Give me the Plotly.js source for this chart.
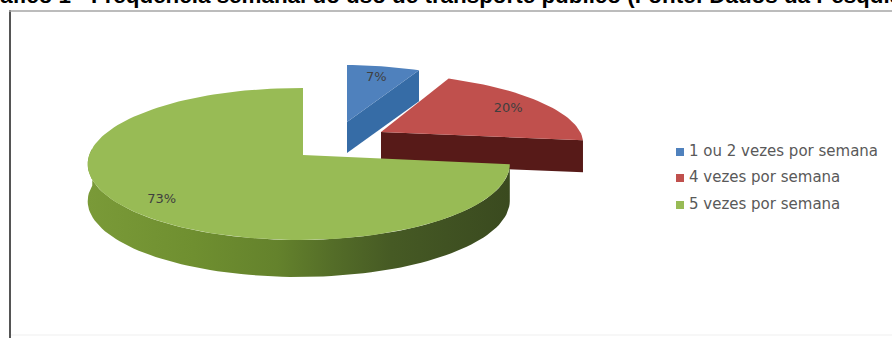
<!DOCTYPE html>
<html>
<head>
<meta charset="utf-8">
<script src="https://cdn.plot.ly/plotly-3.0.1.min.js"></script>
<style>html,body{margin:0;padding:0;background:#fff;overflow:hidden}#chart{width:892px;height:338px}</style>
</head>
<body>
<div id="chart"></div>
<script>
// Weekly public-transport use, shares in percent
const categories = ["1 ou 2 vezes por semana", "4 vezes por semana", "5 vezes por semana"];
const shares = [7, 20, 73];
const chartTitle = "Gráfico 1 - Frequência semanal do uso de transporte público (Fonte: Dados da Pesquisa)";

const topColors = ["#4f81bd", "#c0504d", "#98bb55"];
const wallColors = ["#366ca6", "#571a18", "#6f8f38"];
const legendY = [152, 178, 205];

// Exploded-slice hubs, per-slice scale and lean of the tilted disc
const hubs = [[347, 122], [381, 132], [303, 155]];
const scaleX = [0.9, 0.97, 1];
const scaleY = [0.85, 0.88, 1];
const lean = [0, -11, 0];
const labelRadius = [0.78, 0.78, 0.83];
const wallDepth = [31, 32, 37];

// Perspective projection of a point on the unit disc (angle clockwise from 12 o'clock)
function project(i, deg, r) {
  const t = deg * Math.PI / 180, u = r * Math.sin(t), v = r * Math.cos(t);
  const w = 1 + 0.118 * v + 0.02 * u;
  return [hubs[i][0] + scaleX[i] * 209.5 * u / w + lean[i] * v, hubs[i][1] - scaleY[i] * 74.9 * v / w];
}

function rim(i, from, to) {
  const pts = [];
  const n = Math.max(2, Math.ceil(Math.abs(to - from) / 2));
  for (let k = 0; k <= n; k++) pts.push(project(i, from + (to - from) * k / n, 1));
  return pts;
}

const bounds = [];
shares.reduce((acc, s) => { bounds.push([acc, acc + s * 3.6]); return acc + s * 3.6; }, 0);

function polygon(pts, extra) {
  return Object.assign({
    type: "scatter", mode: "lines", x: pts.map(p => p[0]), y: pts.map(p => p[1]),
    fill: "toself", line: {width: 0}, hoverinfo: "skip", showlegend: false
  }, extra);
}

function wall(i, pts) {
  const d = wallDepth[i];
  return pts.concat(pts.slice().reverse().map(p => [p[0], p[1] + d]));
}

const traces = [];

// Blue: cut face along the end edge
const blueEnd = project(0, bounds[0][1], 1);
traces.push(polygon(wall(0, [blueEnd, hubs[0]]), {fillcolor: wallColors[0]}));
traces.push(polygon([hubs[0], ...rim(0, bounds[0][0], bounds[0][1])], {fillcolor: topColors[0]}));

// Red: cut face along the end edge
const redEnd = project(1, bounds[1][1], 1);
traces.push(polygon(wall(1, [hubs[1], redEnd]), {fillcolor: wallColors[1]}));
traces.push(polygon([hubs[1], ...rim(1, bounds[1][0], bounds[1][1])], {fillcolor: topColors[1]}));

// Green: curved outer wall, darkening to the right, then the top face
traces.push(polygon(wall(2, rim(2, bounds[2][0], 275)), {
  fillgradient: {type: "horizontal", colorscale: [
    [0, "#7a9a38"], [0.25, "#6f8f30"], [0.45, "#64822c"], [0.58, "#546d28"],
    [0.72, "#465a24"], [0.85, "#405222"], [1, "#3a4a1f"]
  ]}
}));
traces.push(polygon([hubs[2], ...rim(2, bounds[2][0], bounds[2][1])], {fillcolor: topColors[2]}));

// Percentage labels at each slice's mid angle
const labelPts = shares.map((s, i) => project(i, (bounds[i][0] + bounds[i][1]) / 2, labelRadius[i]));
traces.push({
  type: "scatter", mode: "text", x: labelPts.map(p => p[0]), y: labelPts.map(p => p[1]),
  text: shares.map(s => s + "%"), textposition: "middle center",
  textfont: {family: "DejaVu Sans", size: 13, color: "#3f3f3f"}, hoverinfo: "skip", showlegend: false
});

// Legend column: square keys and their labels
traces.push({
  type: "scatter", mode: "markers", x: categories.map(() => 680), y: legendY,
  marker: {symbol: "square", size: 8, color: topColors}, hoverinfo: "skip", showlegend: false
});
traces.push({
  type: "scatter", mode: "text", x: categories.map(() => 689), y: legendY,
  text: categories, textposition: "middle right",
  textfont: {family: "DejaVu Sans", size: 15, color: "#595959"}, hoverinfo: "skip", showlegend: false
});

const hiddenAxis = {visible: false, fixedrange: true, showgrid: false, zeroline: false};
const layout = {
  width: 892, height: 338, margin: {l: 0, r: 0, t: 0, b: 0},
  paper_bgcolor: "#ffffff", plot_bgcolor: "#ffffff", showlegend: false,
  xaxis: Object.assign({range: [0, 892]}, hiddenAxis),
  yaxis: Object.assign({range: [338, 0]}, hiddenAxis),
  shapes: [
    {type: "line", x0: 10, x1: 10, y0: 10, y1: 338, line: {color: "#555555", width: 2}},
    {type: "line", x0: 9, x1: 892, y0: 11, y1: 11, line: {color: "#a6a6a6", width: 1.5}},
    {type: "line", x0: 11, x1: 892, y0: 335, y1: 335, line: {color: "#efefef", width: 1}}
  ],
  annotations: [{
    text: "<b>" + chartTitle + "</b>", x: -28 / 892, y: 1 + 4 / 338, xref: "paper", yref: "paper",
    xanchor: "left", yanchor: "middle", showarrow: false,
    font: {family: "Liberation Sans", size: 22.4, color: "#000000"}
  }]
};
Plotly.newPlot("chart", traces, layout, {displayModeBar: false, staticPlot: true});
</script>
</body>
</html>
